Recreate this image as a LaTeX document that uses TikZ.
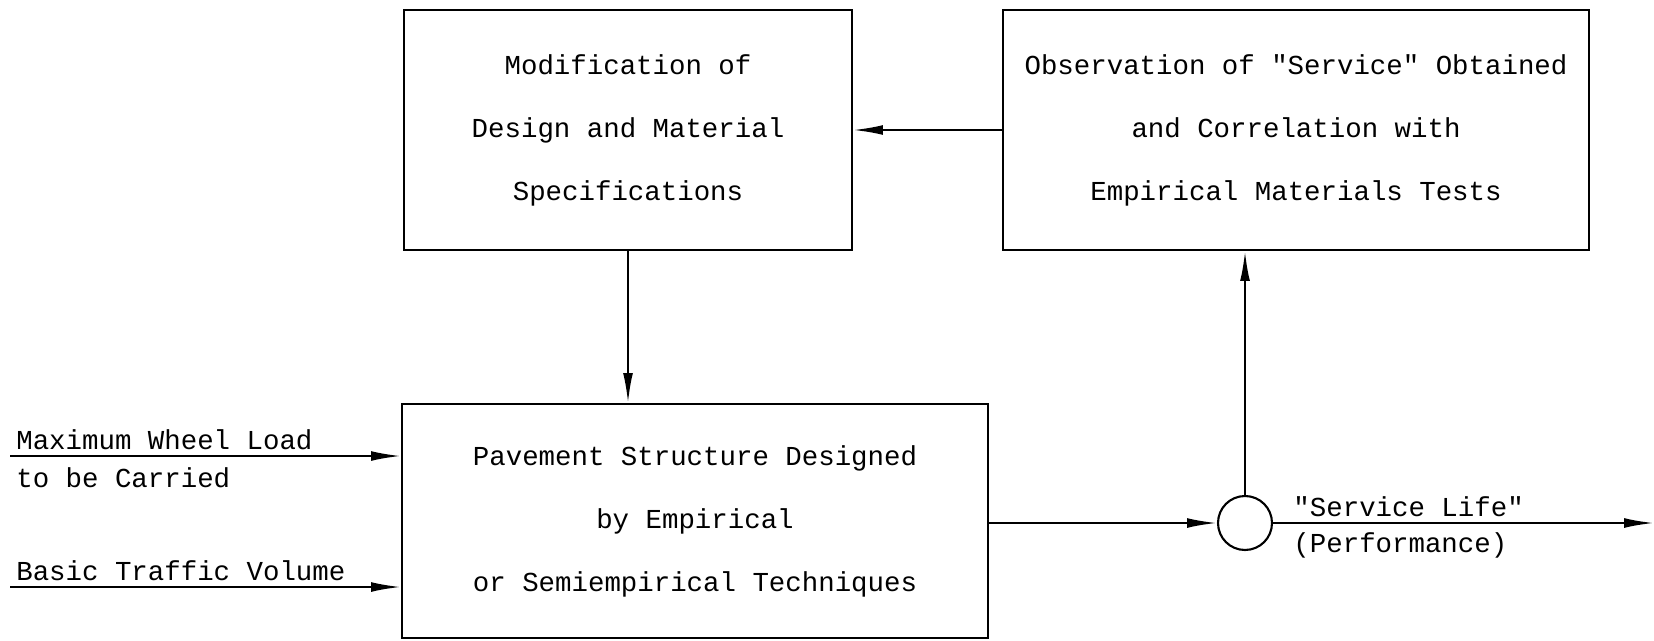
\documentclass[tikz,border=0pt]{standalone}
\usepackage{fontspec}
\setmonofont{Liberation Mono}
\usetikzlibrary{arrows.meta,positioning}

\begin{document}
\begin{tikzpicture}[font=\ttfamily\fontsize{7.8}{17.9}\selectfont,line width=.6pt,
  blockbox/.style={draw,align=center,inner sep=0pt},
  flow/.style={-{Latex[length=8.5pt,width=2.8pt]}}]
\useasboundingbox (0,0) rectangle (16.54,6.40);
\node[blockbox,minimum width=4.48cm,minimum height=2.40cm] (mod) at (6.28,5.10){Modification of\\Design and Material\\Specifications};
\node[blockbox,minimum width=5.86cm,minimum height=2.40cm] (obs) at (12.96,5.10){Observation of "Service" Obtained\\and Correlation with\\Empirical Materials Tests};
\node[blockbox,minimum width=5.86cm,minimum height=2.34cm] (pav) at (6.95,1.19){Pavement Structure Designed\\by Empirical\\or Semiempirical Techniques};
\node[draw,circle,minimum size=.54cm,inner sep=0pt] (junc) at (12.45,1.17){};
\coordinate (load) at (.10,1.84);\coordinate (traffic) at (.10,.53);\coordinate (out) at (16.54,1.17);
% inputs on the left
\draw[flow] (load) -- (load -| pav.west);\draw[flow] (traffic) -- (traffic -| pav.west);
\node[anchor=south west,inner sep=1.5pt] (loadtxt) at (load){Maximum Wheel Load};
\node[anchor=north west,inner xsep=1.5pt,inner ysep=3pt] (loadtxt2) at (load){to be Carried};
\node[anchor=south west,inner sep=1.5pt] (traffictxt) at (traffic){Basic Traffic Volume};
% loop
\draw[flow] (obs.west) -- (mod.east);
\draw[flow] (mod.south) -- (mod.south |- pav.north);
\draw[flow] (pav.east |- junc) -- (junc.west);
\draw[flow] (junc.north) -- (junc.north |- obs.south);
\draw[flow] (junc.east) -- (out);
\node[above right=0pt and 4pt of junc.east,inner sep=1.5pt] (lifetxt){"Service Life"};
\node[below right=0pt and 4pt of junc.east,inner xsep=1.5pt,inner ysep=2.5pt] (perftxt){(Performance)};
\end{tikzpicture}
\end{document}
